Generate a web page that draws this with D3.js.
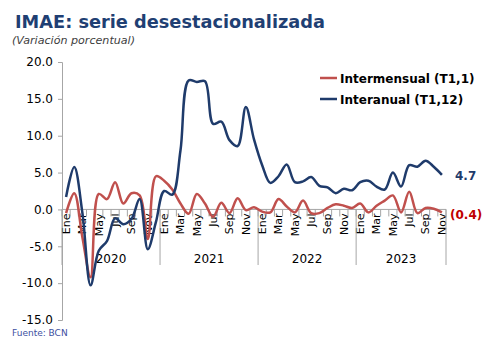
<!DOCTYPE html>
<html><head><meta charset="utf-8">
<script src="https://cdn.jsdelivr.net/npm/d3@7"></script>
<style>body{margin:0;background:#fff}svg{display:block}</style>
</head><body>
<script>
const years = [2020, 2021, 2022, 2023];
const monthNames = ["Ene","Feb","Mar","Abr","May","Jun","Jul","Ago","Sep","Oct","Nov","Dic"];
const lastMonthIndex = 10; // Nov 2023
const intermensual = [
  -0.5, 2.2, -3.8, -9.2, 2.1, 1.4, 3.7, 0.8, 2.2, 1.9, -4.0, 4.5,
  3.9, 2.7, 0.8, -0.6, 2.1, 0.8, -1.0, 0.9, -0.5, 1.5, -0.1, 0.3,
  -0.3, -0.4, 1.4, 0.4, -0.4, 1.2, -0.5, -0.5, 0.2, 0.7, 0.5, 0.2,
  0.8, -0.4, 0.5, 1.2, 1.9, -0.4, 2.4, -0.5, 0.2, 0.1, -0.4
];
const interanual = [
  1.7, 5.75, -0.5, -10.3, -5.6, -4.3, -1.2, -2.0, -1.3, 1.4, -5.4, -1.7,
  2.5, 2.0, 8.0, 17.5, 17.3, 17.4, 11.6, 11.9, 9.4, 8.6, 13.9, 9.5,
  6.0, 3.6, 4.5, 6.1, 3.7, 3.8, 4.4, 3.2, 3.0, 2.2, 2.8, 2.6,
  3.7, 3.9, 3.1, 2.7, 5.0, 3.1, 6.0, 5.8, 6.6, 5.8, 4.7
];
const yTicks = [-15, -10, -5, 0, 5, 10, 15, 20];
const seriesNames = ["Intermensual (T1,1)", "Interanual (T1,12)"];
const seriesColors = ["#c0504d", "#1f3b6b"];
const endLabels = ["(0.4)", "4.7"];

const categories = [];
years.forEach(y => monthNames.forEach((m, i) => {
  if (y === 2023 && i > lastMonthIndex) return;
  categories.push({key: y + "-" + i, year: y, month: m, mi: i});
}));

const W = 494, H = 351;
const svg = d3.select("body").append("svg").attr("width", W).attr("height", H)
  .style("font-family", "'DejaVu Sans', Verdana, sans-serif");

const x = d3.scaleBand().domain(categories.map(c => c.key)).range([62, 446]).padding(0);
const cx = k => x(k) + x.bandwidth() / 2;
const y = d3.scaleLinear().domain([-15, 20]).range([320, 62]);

// Title
svg.append("text").attr("x", 15).attr("y", 28).text("IMAE: serie desestacionalizada")
  .attr("font-size", 18).attr("font-weight", "bold").attr("fill", "#1f3f73")
  .attr("textLength", 310).attr("lengthAdjust", "spacingAndGlyphs");
svg.append("text").attr("x", 12).attr("y", 44).text("(Variación porcentual)")
  .attr("font-size", 11).attr("font-style", "italic").attr("fill", "#404040")
  .attr("textLength", 123).attr("lengthAdjust", "spacingAndGlyphs");

// Y axis
const fmt = v => d3.format(".1f")(Math.abs(v)).replace(/^/, v < 0 ? "-" : "");
const yAxis = svg.append("g").attr("transform", "translate(62,0)")
  .call(d3.axisLeft(y).tickValues(yTicks).tickFormat(fmt).tickSize(4).tickPadding(5));
yAxis.select(".domain").attr("stroke", "#a6a6a6");
yAxis.selectAll(".tick line").attr("stroke", "#a6a6a6");
yAxis.selectAll(".tick text").attr("font-size", 12).attr("fill", "#000")
  .attr("font-family", "'DejaVu Sans', Verdana, sans-serif");

// X axis at zero
const y0 = y(0);
const xAxis = svg.append("g").attr("transform", `translate(0,${y0})`)
  .call(d3.axisBottom(x).tickValues(categories.filter(c => c.mi % 2 === 0).map(c => c.key))
    .tickFormat(k => categories.find(c => c.key === k).month).tickSize(0));
xAxis.select(".domain").attr("stroke", "#a6a6a6").attr("d", `M62,0H446`);
xAxis.selectAll(".tick text")
  .attr("font-size", 11).attr("fill", "#000").attr("font-family", "'DejaVu Sans', Verdana, sans-serif")
  .attr("text-anchor", "end").attr("transform", "rotate(-90)")
  .attr("x", -4).attr("y", 0).attr("dy", "0.35em");

// minor tick marks at category boundaries
const boundaries = categories.map(c => x(c.key)).concat([x(categories[categories.length - 1].key) + x.bandwidth()]);
svg.append("g").selectAll("line").data(boundaries).join("line")
  .attr("x1", d => d).attr("x2", d => d).attr("y1", y0).attr("y2", y0 + 7)
  .attr("stroke", "#a6a6a6");
// year separators
const yearStarts = years.map(yr => x(yr + "-0")).concat([boundaries[boundaries.length - 1]]);
svg.append("g").selectAll("line").data(yearStarts).join("line")
  .attr("x1", d => d).attr("x2", d => d).attr("y1", y0).attr("y2", 265)
  .attr("stroke", "#a6a6a6");
// year labels
svg.append("g").selectAll("text").data(years).join("text")
  .attr("x", (yr, i) => (yearStarts[i] + yearStarts[i + 1]) / 2).attr("y", 263)
  .attr("text-anchor", "middle").attr("font-size", 12).attr("fill", "#000").text(d => d);

// Lines
const line = d3.line().x((d, i) => cx(categories[i].key)).y(d => y(d)).curve(d3.curveCatmullRom.alpha(0.5));
[intermensual, interanual].forEach((s, si) => {
  svg.append("path").datum(s).attr("d", line).attr("fill", "none")
    .attr("stroke", seriesColors[si]).attr("stroke-width", 2.5).attr("stroke-linejoin", "round");
});

// End labels
svg.append("text").attr("x", 450).attr("y", y(intermensual[intermensual.length - 1]) + 7)
  .text(endLabels[0]).attr("font-size", 12).attr("font-weight", "bold").attr("fill", "#c00000");
svg.append("text").attr("x", 455).attr("y", y(interanual[interanual.length - 1]) + 5)
  .text(endLabels[1]).attr("font-size", 12).attr("font-weight", "bold").attr("fill", "#1f3b6b");

// Legend
const leg = svg.append("g");
seriesNames.forEach((n, i) => {
  const ly = 78 + i * 21;
  leg.append("line").attr("x1", 320).attr("x2", 337).attr("y1", ly).attr("y2", ly)
    .attr("stroke", seriesColors[i]).attr("stroke-width", 2.5);
  leg.append("text").attr("x", 340).attr("y", ly + 5).text(n)
    .attr("font-size", 12).attr("font-weight", "bold").attr("fill", "#000");
});

// Source
svg.append("text").attr("x", 12).attr("y", 336).text("Fuente: BCN")
  .attr("font-size", 9).attr("fill", "#3d4f9f");
</script>
</body></html>
